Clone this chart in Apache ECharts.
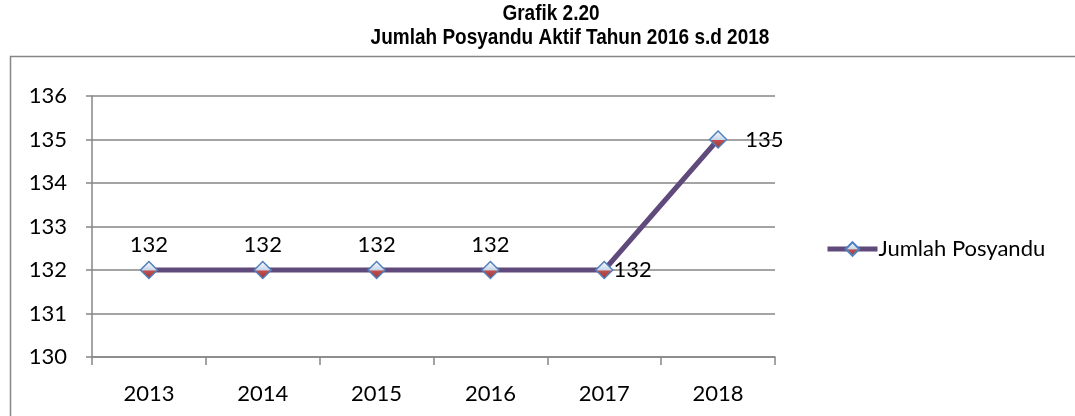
<!DOCTYPE html>
<html><head><meta charset="utf-8">
<script src="https://cdn.jsdelivr.net/npm/echarts@6/dist/echarts.min.js"></script>
<style>html,body{margin:0;padding:0;background:#fff}#c{width:1075px;height:416px}</style>
</head><body><div id="c"></div>
<script>
const categories = ['2013','2014','2015','2016','2017','2018'];
const values = [132,132,132,132,132,135];
const labelPos = ['top','top','top','top','right','right'];
const labelDist = [5,5,5,5,0,18];
const seriesName = 'Jumlah Posyandu';
const titleLines = ['Grafik 2.20','Jumlah Posyandu Aktif Tahun 2016 s.d 2018'];

const chart = echarts.init(document.getElementById('c'), null, {renderer:'canvas'});
const markerColor = new echarts.graphic.LinearGradient(0,0,0,1,[
  {offset:0,color:'#ffffff'},{offset:0.5,color:'#c9d6ea'},{offset:0.55,color:'#c0504d'},{offset:1,color:'#9b3431'}]);
const font = 'Lato, "Open Sans", sans-serif';
const tFont = 'bold 19px "Liberation Sans", Arial, sans-serif';
chart.setOption({
  animation:false,
  graphic:[
    {type:'rect',shape:{x:10.5,y:56.5,width:1100,height:400},style:{fill:'none',stroke:'#868686',lineWidth:1.5},z:-1},
    {type:'text',x:551,y:14,scaleY:1.15,style:{text:titleLines[0],font:tFont,fill:'#000',align:'center',verticalAlign:'middle'}},
    {type:'text',x:570,y:38,scaleY:1.15,style:{text:titleLines[1],font:tFont,fill:'#000',align:'center',verticalAlign:'middle'}}
  ],
  legend:{show:true,left:820,top:233,itemWidth:50,itemHeight:17,itemGap:0,
    data:[seriesName],
    lineStyle:{width:5,color:'#604a7b'},
    textStyle:{fontFamily:font,fontSize:22,color:'#000',padding:[0,0,0,-4]}},
  grid:{left:92,right:300,top:96,bottom:59,containLabel:false,outerBoundsMode:'none'},
  xAxis:{type:'category',data:categories,boundaryGap:true,
    axisLine:{lineStyle:{color:'#868686',width:1.5}},
    axisTick:{show:true,length:8,lineStyle:{color:'#868686',width:1.5}},
    axisLabel:{fontFamily:font,fontSize:22,color:'#000',margin:26},
    splitLine:{show:false}},
  yAxis:{type:'value',min:130,max:136,interval:1,
    axisLine:{show:true,lineStyle:{color:'#868686',width:1.5}},
    axisTick:{show:true,length:6,lineStyle:{color:'#868686',width:1.5}},
    axisLabel:{fontFamily:font,fontSize:22,color:'#000',margin:25},
    splitLine:{lineStyle:{color:'#868686',width:1.5}}},
  series:[{name:seriesName,type:'line',data:values.map((v,i)=>({value:v,label:{position:labelPos[i],distance:labelDist[i]}})),
    symbol:'diamond',symbolSize:17,
    lineStyle:{color:'#604a7b',width:5},
    itemStyle:{color:markerColor,borderColor:'#4f81bd',borderWidth:1.5},
    label:{show:true,fontFamily:font,fontSize:22,color:'#000'}
  }]
});
</script></body></html>
